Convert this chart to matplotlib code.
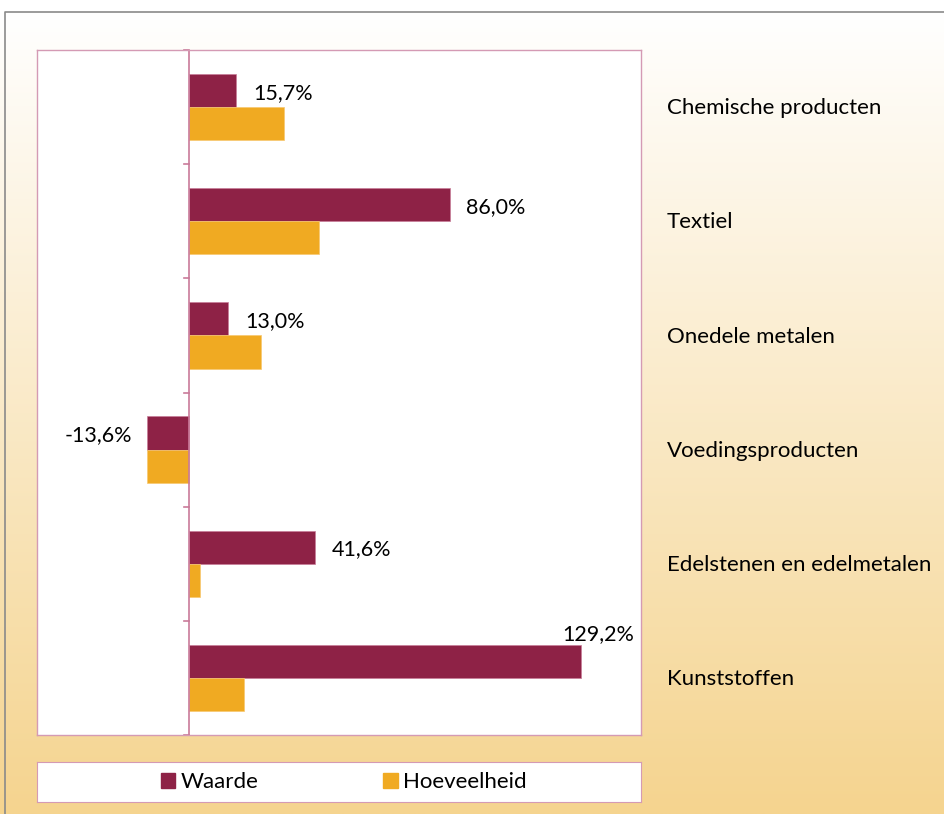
import numpy as np
import matplotlib.pyplot as plt
from matplotlib.patches import Rectangle

plt.rcParams['font.family'] = ['Lato', 'DejaVu Sans']

categories = ["Chemische producten", "Textiel", "Onedele metalen",
              "Voedingsproducten", "Edelstenen en edelmetalen", "Kunststoffen"]
waarde = [15.7, 86.0, 13.0, -13.6, 41.6, 129.2]
hoeveelheid = [31.3, 42.8, 23.7, -13.8, 3.6, 18.1]
labels = ["15,7%", "86,0%", "13,0%", "-13,6%", "41,6%", "129,2%"]

c_waarde = "#8E2246"
c_hoev = "#F0AA22"
pink = "#D49AB4"

W, H = 944, 814
fig = plt.figure(figsize=(W / 100, H / 100), dpi=100)

# background gradient panel
bg = fig.add_axes([0, 0, 1, 1], zorder=-5)
top = np.array([1.0, 1.0, 1.0])
bot = np.array([245, 212, 143]) / 255
t = np.linspace(0, 1, 300)[:, None, None]
grad = top * (1 - t) + bot * t
grad = np.repeat(grad, 2, axis=1)
bg.imshow(grad, aspect='auto', extent=[0, 1, 0, (H - 12) / H], origin='upper')
bg.set_xlim(0, 1)
bg.set_ylim(0, 1)
bg.plot([5 / W, 5 / W, 1], [0, (H - 12) / H, (H - 12) / H], color="#8A8A8A", lw=1.2)
bg.axis('off')

# main plot
ax = fig.add_axes([37 / W, 1 - 735 / H, 604 / W, 685 / H])
y = np.arange(len(categories))
h = 0.29
ax.barh(y - h / 2, waarde, height=h, color=c_waarde, edgecolor="#C87C98", linewidth=0.5)
ax.barh(y + h / 2, hoeveelheid, height=h, color=c_hoev, edgecolor="#F7C870", linewidth=0.5)
ax.set_xlim(-50, 149)
ax.set_ylim(len(categories) - 0.5, -0.5)
ax.set_facecolor("white")
for s in ax.spines.values():
    s.set_color(pink)
    s.set_linewidth(1)

ax.axvline(0, color="#C97A9A", lw=1.2)
ax.set_xticks([])
ax.set_yticks([])
tick_len = 5 / 604 * 199
for b in np.arange(-0.5, len(categories), 1.0):
    ax.plot([-tick_len, 0], [b, b], color="#C97A9A", lw=1.2, clip_on=False)

fs_val = 15.5
for i, (v, lab) in enumerate(zip(waarde, labels)):
    if v < 0:
        ax.text(v - 5, i - h / 2 + 0.02, lab, ha='right', va='center', fontsize=fs_val)
    elif v > 100:
        ax.text(v + 17.5, i - h - 0.01, lab, ha='right', va='bottom', fontsize=fs_val)
    else:
        ax.text(v + 5.5, i - h / 2 + 0.02, lab, ha='left', va='center', fontsize=fs_val)

for i, c in enumerate(categories):
    ax.text(1 + 26 / 604, i + 0.01, c, transform=ax.get_yaxis_transform(),
            ha='left', va='center', fontsize=16)

# legend box
lax = fig.add_axes([37 / W, 1 - 802 / H, 604 / W, 40 / H])
lax.set_facecolor("white")
lax.set_xticks([])
lax.set_yticks([])
for s in lax.spines.values():
    s.set_color(pink)
handles = [Rectangle((0, 0), 1, 1, color=c_waarde), Rectangle((0, 0), 1, 1, color=c_hoev)]
lax.legend(handles, ["Waarde", "Hoeveelheid"], loc='center', bbox_to_anchor=(0.5 + 5 / 604, 0.5),
           ncol=2, frameon=False,
           fontsize=16, handlelength=0.65, handleheight=0.65, handletextpad=0.25,
           columnspacing=5.6)

fig.savefig("out.png", dpi=100)
